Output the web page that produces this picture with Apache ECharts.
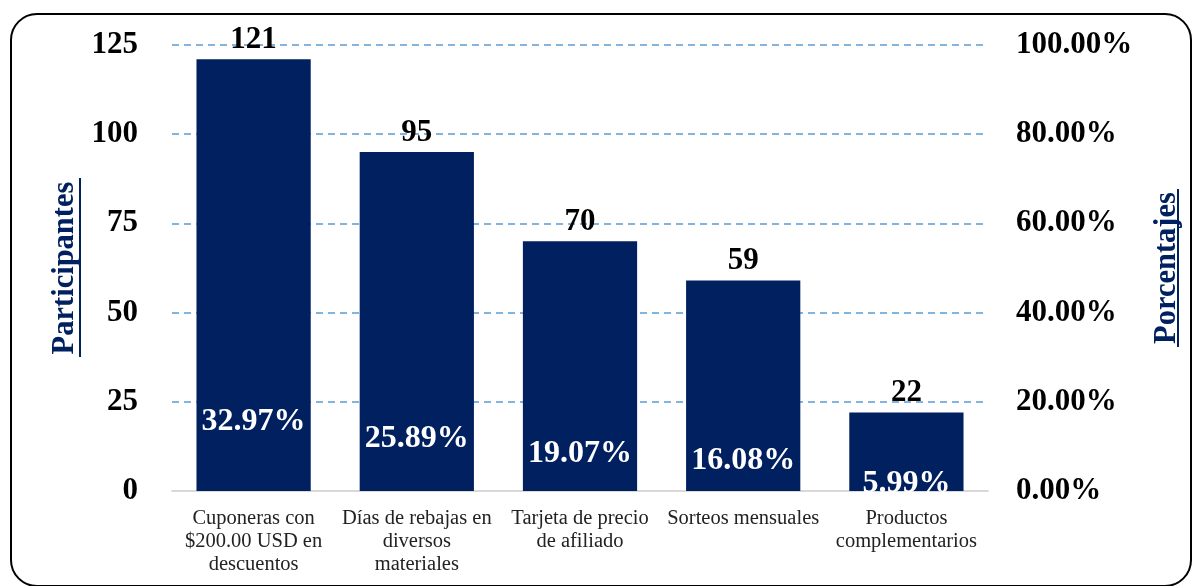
<!DOCTYPE html>
<html>
<head>
<meta charset="utf-8">
<script src="https://cdn.jsdelivr.net/npm/echarts@6/dist/echarts.min.js"></script>
<style>
  html, body { margin: 0; padding: 0; background: #fff; }
  #chart { width: 1200px; height: 586px; }
</style>
</head>
<body>
<div id="chart"></div>
<script>
// datos
const categorias = [
  'Cuponeras con\n$200.00 USD en\ndescuentos',
  'Días de rebajas en\ndiversos\nmateriales',
  'Tarjeta de precio\nde afiliado',
  'Sorteos mensuales',
  'Productos\ncomplementarios'
]
const participantes = [121, 95, 70, 59, 22]
const porcentajes = [32.97, 25.89, 19.07, 16.08, 5.99]

const fuente = 'Liberation Serif'
const azul = '#002060'

let myChart = echarts.init(document.getElementById('chart'))

let option = {
  animation: false,
  backgroundColor: '#fff',
  grid: {
    left: 172,
    right: 212,
    top: 45,
    bottom: 95
  },
  graphic: [
    {
      type: 'rect',
      shape: { x: 11, y: 14, width: 1180, height: 572, r: 26 },
      style: { fill: 'none', stroke: '#000', lineWidth: 2 },
      z: -1
    },
    // subrayado de los nombres de ejes
    {
      type: 'line',
      shape: { x1: 80, y1: 178, x2: 80, y2: 357 },
      style: { stroke: azul, lineWidth: 2 }
    },
    {
      type: 'line',
      shape: { x1: 1178, y1: 189, x2: 1178, y2: 347 },
      style: { stroke: azul, lineWidth: 2 }
    }
  ],
  xAxis: {
    type: 'category',
    data: categorias,
    axisLine: { lineStyle: { color: '#d9d9d9', width: 2 } },
    axisTick: { show: false },
    axisLabel: {
      interval: 0,
      margin: 16,
      color: '#222',
      fontFamily: fuente,
      fontSize: 20.5,
      lineHeight: 23
    }
  },
  yAxis: [
    {
      type: 'value',
      min: 0,
      max: 125,
      interval: 25,
      name: 'Participantes',
      nameLocation: 'middle',
      nameRotate: 90,
      nameGap: 91,
      nameTextStyle: {
        color: azul,
        fontFamily: fuente,
        fontSize: 30.5,
        fontWeight: 'bold'
      },
      axisLine: { show: false },
      axisTick: { show: false },
      splitLine: {
        lineStyle: { color: '#5b9bd5', type: [7, 5], width: 1.5 }
      },
      axisLabel: {
        margin: 34,
        color: '#000',
        fontFamily: fuente,
        fontSize: 31,
        fontWeight: 'bold'
      }
    },
    {
      type: 'value',
      min: 0,
      max: 100,
      interval: 20,
      name: 'Porcentajes',
      nameLocation: 'middle',
      nameRotate: 90,
      nameGap: 164,
      nameTextStyle: {
        color: azul,
        fontFamily: fuente,
        fontSize: 30.5,
        fontWeight: 'bold'
      },
      axisLine: { show: false },
      axisTick: { show: false },
      splitLine: { show: false },
      axisLabel: {
        margin: 28,
        color: '#000',
        fontFamily: fuente,
        fontSize: 31,
        fontWeight: 'bold',
        formatter: (v) => v.toFixed(2) + '%'
      }
    },
    {
      // eje oculto solo para colocar las etiquetas de porcentaje
      type: 'value',
      show: false,
      min: 0,
      max: 194
    }
  ],
  series: [
    {
      type: 'bar',
      data: participantes,
      barCategoryGap: '30%',
      itemStyle: { color: azul },
      label: {
        show: true,
        position: 'top',
        distance: 4,
        color: '#000',
        fontFamily: fuente,
        fontSize: 31,
        fontWeight: 'bold'
      }
    },
    {
      type: 'scatter',
      yAxisIndex: 2,
      data: porcentajes,
      symbolSize: 1,
      itemStyle: { color: 'rgba(0,0,0,0)', opacity: 1 },
      label: {
        show: true,
        position: 'inside',
        offset: [0, 7],
        color: '#fff',
        fontFamily: fuente,
        fontSize: 32,
        fontWeight: 'bold',
        formatter: (p) => p.value.toFixed(2) + '%'
      },
      z: 5
    }
  ]
}

myChart.setOption(option)
window.onresize = myChart.resize
</script>
</body>
</html>
